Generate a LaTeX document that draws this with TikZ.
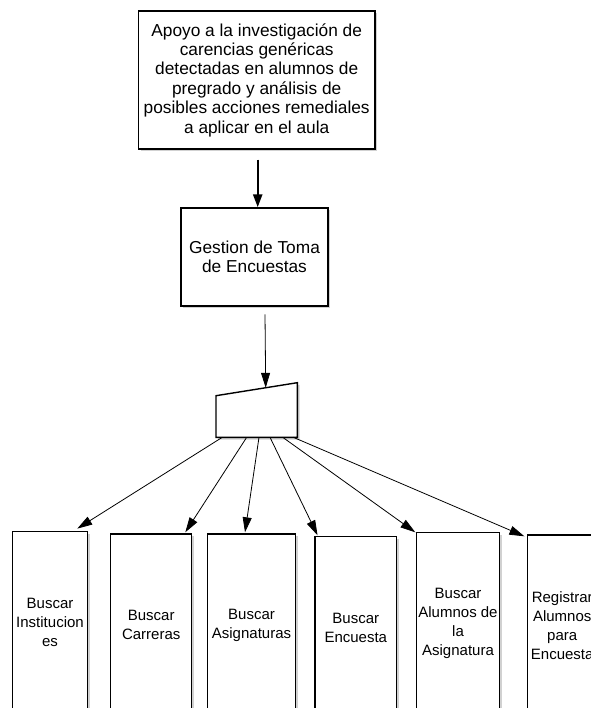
\documentclass[tikz,border=0pt]{standalone}
\usepackage{fontspec}
\setmainfont{Liberation Sans}
\usetikzlibrary{arrows.meta,shadows,calc}
\begin{document}
\begin{tikzpicture}[x=1pt,y=-1pt,
  box/.style={draw=black,line width=1.4pt,fill=white,inner sep=0pt,align=center,
    drop shadow={shadow xshift=2.2pt,shadow yshift=-2.2pt,fill=black!30,opacity=0.6}},
  bigtxt/.style={font=\fontsize{17.3}{19.4}\selectfont},
  smalltxt/.style={font=\fontsize{15}{19}\selectfont},
  conn/.style={line width=0.8pt,-{Triangle[length=15pt,width=9pt]}},
  thickconn/.style={line width=2.4pt,-{Triangle[length=13pt,width=9pt]}}]
\useasboundingbox (0,0) rectangle (590,708);

\node[box,bigtxt,minimum width=236.7pt,minimum height=138pt] (top) at (256.7,80)
  {Apoyo a la investigación de\\carencias genéricas\\detectadas en alumnos de\\pregrado y análisis de\\posibles acciones remediales\\a aplicar en el aula};

\node[box,bigtxt,minimum width=147pt,minimum height=98pt] (gest) at (254.5,257)
  {Gestion de Toma\\ de Encuestas};

% trapezoid (manual input shape)
\coordinate (tl) at (216,395.7);
\coordinate (tr) at (297.3,382.7);
\coordinate (br) at (297.3,437.3);
\coordinate (bl) at (216,437.3);
\fill[black!30,opacity=0.6] ($(tl)+(2.2,2.2)$) -- ($(tr)+(2.2,2.2)$) -- ($(br)+(2.2,2.2)$) -- ($(bl)+(2.2,2.2)$) -- cycle;
\draw[line width=1.4pt,fill=white,line join=miter] (tl) -- (tr) -- (br) -- (bl) -- cycle;
\coordinate (trapin) at (265.7,387.8);

% bottom boxes
\node[box,smalltxt,minimum width=74.6pt,minimum height=182pt] (b1) at (50,622.7) {Buscar\\Institucion\\es};
\node[box,smalltxt,minimum width=81pt,minimum height=182pt] (b2) at (151.2,625) {Buscar\\Carreras};
\node[box,smalltxt,minimum width=88.4pt,minimum height=182pt] (b3) at (251.5,625) {Buscar\\Asignaturas};
\node[box,smalltxt,minimum width=81.7pt,minimum height=182pt] (b4) at (355.8,627.7) {Buscar\\Encuesta};
\node[box,smalltxt,minimum width=82.6pt,minimum height=182pt] (b5) at (458,623.7) {Buscar\\Alumnos de\\la\\Asignatura};
\node[box,smalltxt,minimum width=69.7pt,minimum height=182pt] (b6) at (562.2,626) {Registrar\\Alumnos\\para\\Encuesta};

% connectors
\coordinate (a0) at ($(top.south)+(1,10)$);
\draw[thickconn] (a0) -- (a0 |- gest.north);
\coordinate (a1) at (265,314.3);
\draw[conn] (a1) -- (trapin);

\coordinate (s1) at (222.3,437.3);
\coordinate (s2) at (246.7,437.3);
\coordinate (s3) at (259,437.3);
\coordinate (s4) at (270,437.3);
\coordinate (s5) at (282.7,437.3);
\coordinate (s6) at (293.3,437.3);
\draw[conn] (s1) -- ($(b1.north west)+(65.3,-2.4)$);
\draw[conn] (s2) -- ($(b2.north west)+(75.3,-1)$);
\draw[conn] (s3) -- ($(b3.north west)+(38.4,-1)$);
\draw[conn] (s4) -- ($(b4.north west)+(3.3,-0.7)$);
\draw[conn] (s5) -- ($(b5.north west)+(-0.7,0.3)$);
\draw[conn] (s6) -- ($(b6.north west)+(-2.3,2)$);
\end{tikzpicture}
\end{document}
